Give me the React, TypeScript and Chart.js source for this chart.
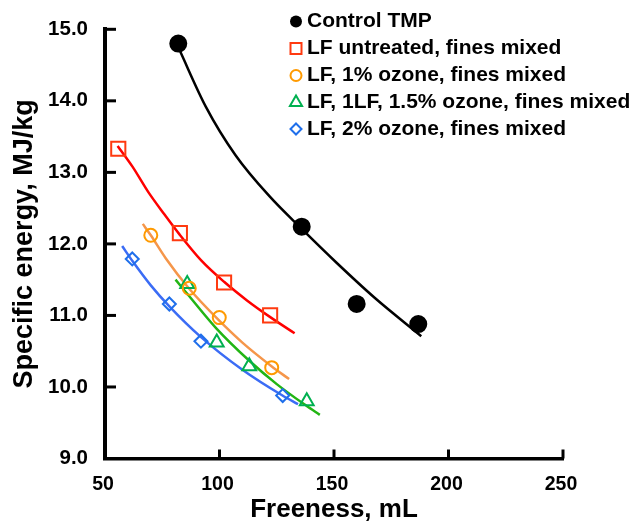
import React, { useEffect, useRef } from 'react';
import { Chart, registerables } from 'chart.js';

Chart.register(...registerables);

// Measured points
const controlX = [82.0, 135.9, 159.9, 186.8];
const controlY = [14.8, 12.24, 11.16, 10.88];
const untreatedX = [55.8, 82.7, 102.0, 122.1];
const untreatedY = [13.33, 12.15, 11.46, 11.0];
const ozone1X = [70.0, 86.8, 99.9, 122.8];
const ozone1Y = [12.12, 11.38, 10.97, 10.27];
const ozone15X = [85.9, 98.8, 113.0, 138.1];
const ozone15Y = [11.44, 10.62, 10.29, 9.8];
const ozone2X = [61.9, 78.1, 91.9, 127.6];
const ozone2Y = [11.79, 11.16, 10.64, 9.88];

// Trend lines
const controlFitX = [82.4, 94, 107, 122, 135.6, 151, 168, 188.1];
const controlFitY = [14.72, 13.92, 13.24, 12.66, 12.22, 11.74, 11.24, 10.71];
const untreatedFitX = [55.5, 62, 69, 76, 82.6, 92, 102, 112, 122, 132.8];
const untreatedFitY = [13.37, 13.08, 12.72, 12.41, 12.13, 11.77, 11.47, 11.21, 10.98, 10.75];
const ozone1FitX = [66.5, 70, 76.5, 86.6, 99.8, 110, 122.7, 130.4];
const ozone1FitY = [12.28, 12.12, 11.8, 11.38, 10.93, 10.62, 10.29, 10.11];
const ozone15FitX = [80.8, 86, 98.6, 112.9, 125, 137.8, 143.8];
const ozone15FitY = [11.5, 11.3, 10.82, 10.37, 10.04, 9.74, 9.61];
const ozone2FitX = [57.5, 62, 70, 78, 91.8, 110, 127.5, 134.3];
const ozone2FitY = [11.97, 11.76, 11.42, 11.13, 10.7, 10.24, 9.88, 9.76];

const seriesLabels = [
  'Control TMP',
  'LF untreated, fines mixed',
  'LF, 1% ozone, fines mixed',
  'LF, 1LF, 1.5% ozone, fines mixed',
  'LF, 2% ozone, fines mixed',
];

const xTitle = 'Freeness, mL';
const yTitle = 'Specific energy, MJ/kg';
const xMin = 50;
const xMax = 250;
const xStep = 50;
const yMin = 9;
const yMax = 15;
const yStep = 1;

const FONT = 'Arial, "Liberation Sans", sans-serif';

const zip = (xs: number[], ys: number[]) => xs.map((x, i) => ({ x, y: ys[i] }));

type Marker = 'circle' | 'rect' | 'triangle' | 'rectRot';

const markerStyles: { style: Marker; color: string; filled: boolean; radius: number; lineColor: string }[] = [
  { style: 'circle', color: '#000000', filled: true, radius: 8, lineColor: '#000000' },
  { style: 'rect', color: '#FF3A10', filled: false, radius: 10, lineColor: '#FF0000' },
  { style: 'circle', color: '#FF9A00', filled: false, radius: 6.5, lineColor: '#F5964A' },
  { style: 'triangle', color: '#00B050', filled: false, radius: 8, lineColor: '#22B514' },
  { style: 'rectRot', color: '#1F6FEB', filled: false, radius: 6.5, lineColor: '#3B6CF5' },
];

function drawMarker(ctx: CanvasRenderingContext2D, style: Marker, x: number, y: number, r: number, color: string, filled: boolean) {
  ctx.save();
  ctx.beginPath();
  if (style === 'circle') {
    ctx.arc(x, y, r, 0, Math.PI * 2);
  } else if (style === 'rect') {
    ctx.rect(x - r, y - r, 2 * r, 2 * r);
  } else if (style === 'triangle') {
    const h = r * 1.732;
    ctx.moveTo(x, y - r);
    ctx.lineTo(x + h / 2, y + r / 2);
    ctx.lineTo(x - h / 2, y + r / 2);
    ctx.closePath();
  } else {
    ctx.moveTo(x, y - r);
    ctx.lineTo(x + r, y);
    ctx.lineTo(x, y + r);
    ctx.lineTo(x - r, y);
    ctx.closePath();
  }
  if (filled) {
    ctx.fillStyle = color;
    ctx.fill();
  } else {
    ctx.strokeStyle = color;
    ctx.lineWidth = 2;
    ctx.stroke();
  }
  ctx.restore();
}

const legendRows = [21.5, 48.5, 75.5, 102.5, 129];
const legendMarkerR = [6, 5.5, 5.5, 7, 5.5];

const customPlugin = {
  id: 'customDecor',
  afterDraw(chart: any) {
    const ctx: CanvasRenderingContext2D = chart.ctx;
    const xs = chart.scales.x;
    const ys = chart.scales.y;
    const area = chart.chartArea;
    ctx.save();
    ctx.strokeStyle = '#000';
    ctx.lineWidth = 3;
    ctx.lineCap = 'butt';
    xs.ticks.forEach((t: any) => {
      const px = xs.getPixelForValue(t.value);
      ctx.beginPath();
      ctx.moveTo(px, area.bottom);
      ctx.lineTo(px, area.bottom - 9);
      ctx.stroke();
    });
    ys.ticks.forEach((t: any) => {
      const py = ys.getPixelForValue(t.value);
      ctx.beginPath();
      ctx.moveTo(area.left, py);
      ctx.lineTo(area.left + 11, py);
      ctx.stroke();
    });
    // legend
    ctx.font = `bold 21px ${FONT}`;
    ctx.textBaseline = 'middle';
    ctx.textAlign = 'left';
    seriesLabels.forEach((lab, i) => {
      const m = markerStyles[i];
      const ry = legendRows[i];
      drawMarker(ctx, m.style, 296, ry, legendMarkerR[i], m.color, m.filled);
      ctx.fillStyle = '#000';
      ctx.fillText(lab, 307, ry);
    });
    ctx.restore();
  },
};

export default function App() {
  const ref = useRef<HTMLCanvasElement | null>(null);
  useEffect(() => {
    if (!ref.current) return;
    const pointSets = [
      zip(controlX, controlY),
      zip(untreatedX, untreatedY),
      zip(ozone1X, ozone1Y),
      zip(ozone15X, ozone15Y),
      zip(ozone2X, ozone2Y),
    ];
    const fitSets = [
      zip(controlFitX, controlFitY),
      zip(untreatedFitX, untreatedFitY),
      zip(ozone1FitX, ozone1FitY),
      zip(ozone15FitX, ozone15FitY),
      zip(ozone2FitX, ozone2FitY),
    ];
    const datasets: any[] = [];
    fitSets.forEach((d, i) => {
      datasets.push({
        type: 'scatter',
        label: seriesLabels[i] + ' fit',
        data: d,
        showLine: true,
        borderColor: markerStyles[i].lineColor,
        backgroundColor: markerStyles[i].lineColor,
        borderWidth: 2.5,
        pointRadius: 0,
        cubicInterpolationMode: 'monotone',
        order: 2,
        clip: false,
      });
    });
    pointSets.forEach((d, i) => {
      const m = markerStyles[i];
      datasets.push({
        type: 'scatter',
        label: seriesLabels[i],
        data: d,
        showLine: false,
        pointStyle: m.style,
        pointRadius: m.radius,
        pointBorderWidth: 2,
        borderColor: m.color,
        backgroundColor: m.filled ? m.color : 'rgba(0,0,0,0)',
        pointBackgroundColor: m.filled ? m.color : 'rgba(0,0,0,0)',
        pointBorderColor: m.color,
        order: 1,
        clip: false,
      });
    });
    const chart = new Chart(ref.current, {
      type: 'scatter',
      data: { datasets },
      options: {
        animation: false,
        responsive: false,
        maintainAspectRatio: false,
        layout: { padding: { left: 0, top: 23, right: 78, bottom: 0 } },
        plugins: { legend: { display: false }, tooltip: { enabled: false } },
        scales: {
          x: {
            type: 'linear',
            min: xMin,
            max: xMax,
            grid: { display: false, drawTicks: false },
            border: { display: true, color: '#000', width: 3.5 },
            ticks: {
              stepSize: xStep,
              padding: 14,
              labelOffset: -2,
              color: '#000',
              font: { family: FONT, size: 19.5, weight: 'bold' },
              callback: (v: any) => String(v),
            },
            title: {
              display: true,
              text: xTitle,
              color: '#000',
              font: { family: FONT, size: 26, weight: 'bold' },
              padding: { top: 0, bottom: 2 },
            },
            afterFit: (s: any) => { s.height = 68.5; },
          },
          y: {
            type: 'linear',
            min: yMin,
            max: yMax,
            grid: { display: false, drawTicks: false },
            border: { display: true, color: '#000', width: 4 },
            ticks: {
              stepSize: yStep,
              padding: 17,
              color: '#000',
              font: { family: FONT, size: 20.5, weight: 'bold' },
              callback: (v: any) => Number(v).toFixed(1),
            },
            title: {
              display: true,
              text: yTitle,
              color: '#000',
              font: { family: FONT, size: 27, weight: 'bold' },
              padding: { top: 8, bottom: 0 },
            },
            afterFit: (s: any) => { s.width = 105; },
          },
        },
      },
      plugins: [customPlugin],
    } as any);
    return () => chart.destroy();
  }, []);
  return (
    <div style={{ position: 'fixed', left: 0, top: 0, width: 641, height: 527, background: '#fff' }}>
      <canvas ref={ref} width={641} height={527} style={{ display: 'block' }} />
    </div>
  );
}
